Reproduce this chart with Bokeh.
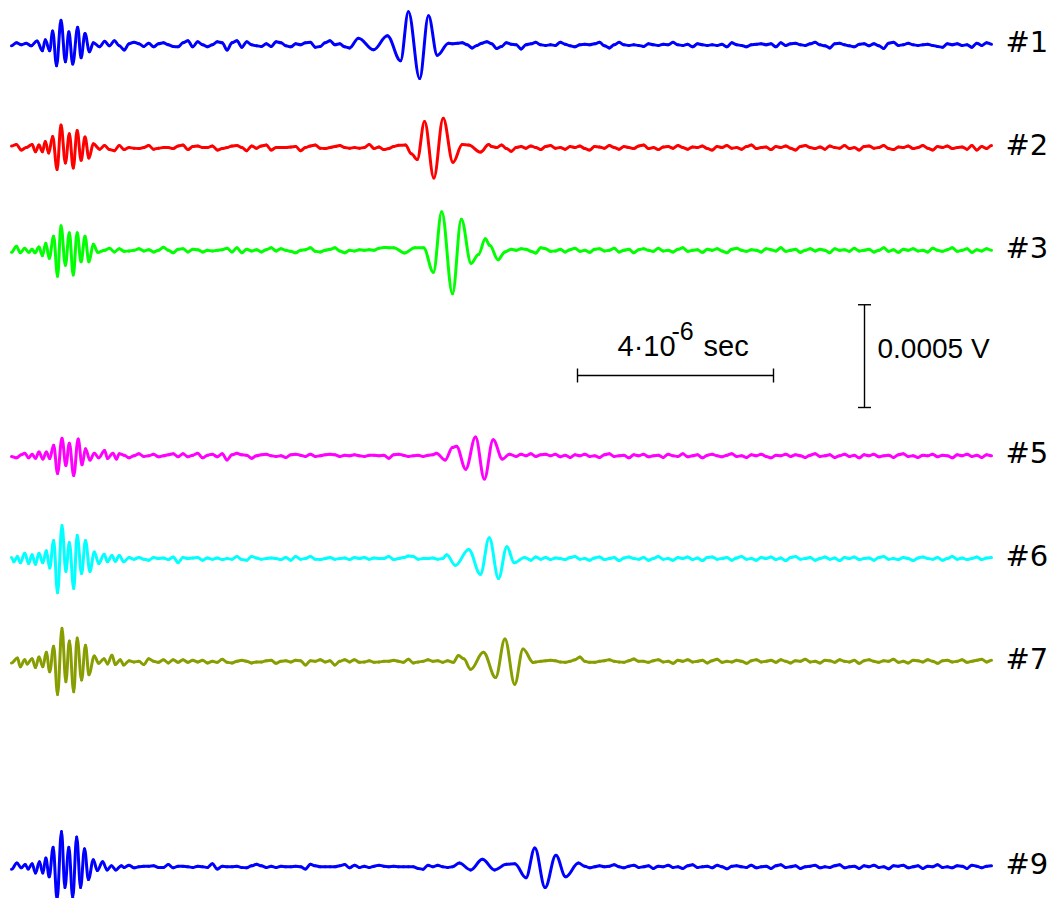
import numpy as np
from bokeh.plotting import figure
from bokeh.models import ColumnDataSource, Range1d
from bokeh.embed import file_html
from bokeh.resources import INLINE
from bokeh.core.properties import value

# ------------------------------------------------------------------
# DATA  (time in microseconds, amplitude in microvolts)
# ------------------------------------------------------------------
NOISE_STEP_US = 0.1          # background samples every 0.1 us (None = see burst/pulse lists)
TRACE_NUMBERS = [1, 2, 3, 5, 6, 7, 9]
TRACE_LABELS = ["#1", "#2", "#3", "#5", "#6", "#7", "#9"]
TRACE_COLORS = ["#0000ff", "#ff0000", "#00ff00", "#ff00ff", "#00ffff", "#889e00", "#0000ff"]
TRACE_SPACING_UV = 500       # traces are offset by 0.0005 V
SCALE_TIME_US = 4            # 4*10^-6 sec scale bar
SCALE_VOLT_UV = 500          # 0.0005 V scale bar
SCALE_TIME_TEXT = ["4\u00b710", "-6", "sec"]
SCALE_VOLT_TEXT = "0.0005 V"

N = None

NOISE_1 = [
    -5, 10, 0, 8, -5, N, N, N, N, N,
    N, N, N, N, N, N, N, N, -10, 17,
    -5, 20, -5, -25, 5, 13, 5, -8, 8, -10,
    5, 10, 0, -8, -10, 10, 20, -10, 15, 0,
    -10, 0, 15, 10, -25, 10, 20, -12, 15, 0,
    -5, -8, 5, -8, 15, 10, -5, -10, 5, 0,
    10, 12, -12, -8, 10, 20, 0, 5, -10, N,
    N, N, N, N, N, N, N, N, N, N,
    N, N, N, N, N, N, N, N, N, N,
    5, 8, 10, 0, -15, -3, 8, 15, 5, -18,
    -8, 10, 3, 0, -20, 0, 5, 12, 0, -3,
    0, -3, 12, 3, -5, -10, 0, 3, 0, 5,
    12, -5, -15, 0, 12, 0, -3, 0, -3, -8,
    5, 0, -3, 3, 0, 12, 0, -3, 3, -10,
    5, 0, -3, 0, -3, 3, -10, 10, 0, -3,
    -10, 0, 3, 5, 0, 5, -10, 10, -3, 5,
    8, 0, -3, 5, 12, 0, -5, -15, 5, 8,
    0, -5, -10, 3, 5, -5, 5, -5, -18, 8,
    12, -3, 0, 8, 0, -3, 0, 3, -3, -8,
    -12, 5, 0, 5, -3, 0, -12, 8, -3, 10,
    3,
]
BURST_1_T = [0.52, 0.63, 0.69, 0.78, 0.84, 0.92, 1.01, 1.10, 1.17, 1.25, 1.35, 1.42, 1.50, 1.59, 1.67]
BURST_1_V = [19, -29, 24, -29, 67, -102, 120, -83, 63, -94, 85, -63, 55, -34, 10]
PULSE_1_T = [6.90, 7.08, 7.39, 7.67, 7.94, 8.10, 8.33, 8.51, 8.69, 8.92]
PULSE_1_V = [-15, 32, -24, 44, -78, 161, -164, 141, -51, 8]

NOISE_2 = [
    7, 15, -12, 0, N, N, N, N, N, N,
    N, N, N, N, N, N, N, N, -8, 10,
    -10, -15, 10, -10, 0, -3, -5, 0, 10, -8,
    -3, 0, 0, -5, 8, 12, -10, 5, 8, 0,
    0, 8, -12, -5, 0, 8, 10, 0, -15, 8,
    -3, 8, 12, -12, 0, 0, 0, 3, 5, -15,
    0, 8, 12, -3, -5, 0, 5, 10, 0, -3,
    0, -3, 0, 15, -5, 3, -10, -5, 5, N,
    N, N, N, N, N, N, N, N, N, N,
    N, N, N, N, N, N, N, N, 5, 0,
    12, -5, -18, 0, 5, -3, 8, 0, -10, 5,
    10, -3, 0, -8, 5, 0, 8, -5, -12, 5,
    3, -3, 10, 0, -8, 5, 0, -5, 8, 12,
    -5, 0, -10, 3, 5, -3, 10, 0, -8, 3,
    0, 8, -5, -12, 5, 0, 10, -3, 0, -8,
    5, 12, -5, 0, 3, -10, 5, 0, 8, -3,
    -12, 5, 10, 0, -5, 3, -8, 8, 0, -3,
    10, -5, 0, -12, 5, 8, -3, 0, 10, -5,
    -10, 3, 0, 8, -5, 0, 10, -3, -12, 5,
    0, 8, -5, 0, 3, -8, 10, -12, 5, -5,
    10,
]
BURST_2_T = [0.42, 0.49, 0.56, 0.63, 0.69, 0.76, 0.84, 0.93, 1.01, 1.10, 1.18, 1.26, 1.34, 1.42, 1.50, 1.58, 1.67]
BURST_2_V = [15, -20, 12, -20, 29, -27, 54, -107, 110, -75, 67, -99, 83, -62, 51, -51, 18]
PULSE_2_T = [7.90, 8.04, 8.16, 8.28, 8.43, 8.62, 8.81, 9.01, 9.20, 9.33, 9.57, 9.74]
PULSE_2_V = [11, 12, -30, -58, 127, -148, 143, -72, 15, 12, -22, 15]

NOISE_3 = [
    -10, N, N, N, N, N, N, N, N, N,
    N, N, N, N, N, N, N, N, N, 0,
    10, -8, 8, -5, -3, 0, 8, -3, 3, -8,
    0, 15, 0, -12, 5, 8, -8, 5, 3, -8,
    0, -3, 0, 3, 10, -8, 12, -12, 5, -3,
    3, -8, 3, 12, -3, 8, 0, -5, -12, 0,
    3, 12, -5, -8, 0, 5, 12, -3, -12, 0,
    -3, 3, 0, 3, 0, 10, 14, 13, N, N,
    N, N, N, N, N, N, N, N, N, N,
    N, N, N, N, N, N, N, N, N, N,
    N, N, 5, 0, 8, 5, -5, -13, 12, 8,
    -5, -3, 5, -8, 3, 10, -5, 0, -10, 5,
    8, -3, 0, 10, -8, 0, 5, -12, 3, 8,
    0, -5, 10, -3, 0, -8, 5, 12, -5, 0,
    3, -10, 5, 0, 8, -3, -12, 5, 10, 0,
    -5, 3, 0, -8, 8, 3, -3, 12, -5, 0,
    5, -10, 0, 8, -3, 5, 0, -12, 8, 0,
    3, -5, 10, -3, 0, 5, -8, 0, 12, -5,
    3, -10, 5, 0, 8, -3, 0, -8, 10, 0,
    -5, 3, 12, -5, 0, 8, -10, 3, -3, 8,
    0,
]
BURST_3_T = [0.10, 0.18, 0.27, 0.35, 0.42, 0.48, 0.56, 0.63, 0.70, 0.77, 0.86, 0.94, 1.01, 1.10, 1.18, 1.26, 1.34, 1.42, 1.50, 1.58, 1.67, 1.76]
BURST_3_V = [20, -12, 10, -10, 5, -12, 16, -26, 34, -39, 68, -126, 120, -73, 86, -120, 86, -56, 68, -56, 29, -10]
PULSE_3_T = [7.80, 8.02, 8.23, 8.41, 8.61, 8.78, 9.00, 9.18, 9.38, 9.53, 9.67, 9.76, 9.93, 10.07]
PULSE_3_V = [13, -13, 13, 12, -107, 188, -211, 151, -63, -20, 56, 24, -46, -8]

NOISE_5 = [
    -3, -10, 5, N, N, N, N, N, N, N,
    N, N, N, N, N, N, N, N, N, N,
    N, N, 10, 3, -10, 0, 10, -3, 0, 8,
    -5, 0, 5, 10, -5, 10, -5, 3, 12, -10,
    3, 8, -5, 10, -20, 5, 12, 5, 3, -12,
    0, 5, 8, 0, -3, 0, -8, 5, 8, 3,
    -3, 8, -3, 0, 5, 8, 5, -3, 3, 0,
    5, 0, -3, 3, 3, 0, 3, -12, 5, 8,
    3, -3, 0, 3, -3, 3, 5, N, N, N,
    N, N, N, N, N, N, N, N, N, N,
    N, N, N, -3, 8, 0, 10, -3, 5, 8,
    0, 8, -5, 3, -8, 5, 0, 8, -3, 0,
    -8, 5, 10, -3, 0, 3, -10, 5, 0, 8,
    -5, 0, 3, -8, 8, 0, -3, 10, -5, 0,
    5, -10, 3, 8, 0, -5, 3, 10, -3, 0,
    -8, 5, 0, 8, -3, -10, 3, 0, 8, -3,
    5, 0, -8, 3, 10, -3, 0, 5, -8, 0,
    8, -3, 3, -10, 5, 0, 8, -5, 0, 3,
    -8, 5, 10, -3, 0, -8, 3, 0, 8, -5,
    3, 0, -10, 5, 0, 8, -3, 3, -8, 5,
    0,
]
BURST_5_T = [0.27, 0.35, 0.42, 0.49, 0.56, 0.64, 0.71, 0.78, 0.86, 0.94, 1.03, 1.11, 1.18, 1.27, 1.36, 1.44, 1.51, 1.60, 1.69, 1.78, 1.90, 1.96, 2.07, 2.14]
BURST_5_V = [13, -10, 8, -12, 18, -16, 18, -13, 51, -86, 86, -47, 61, -96, 82, -44, 34, -21, 13, -10, 26, -13, 13, -16]
PULSE_5_T = [8.67, 8.85, 9.00, 9.08, 9.27, 9.47, 9.65, 9.83, 10.02, 10.16]
PULSE_5_V = [13, -21, 40, 47, -65, 91, -113, 78, -16, 8]

NOISE_6 = [
    5, N, N, N, N, N, N, N, N, N,
    N, N, N, N, N, N, N, N, N, N,
    N, N, N, N, 5, -3, 5, -3, -8, 5,
    0, 3, -5, 8, -20, 5, 0, 3, 5, -8,
    3, -3, 3, -5, 0, -3, 10, -5, -8, 10,
    3, -3, 0, 3, 0, -5, 5, -8, 10, -3,
    0, 10, -3, -5, 0, 5, -3, 0, 3, -5,
    5, 0, 5, -3, 3, 0, 0, 10, -5, 0,
    5, 12, 10, -3, 0, 0, 3, -3, 0, N,
    N, N, N, N, N, N, N, N, N, N,
    N, N, N, N, N, N, -8, 8, -3, 5,
    -5, 3, 0, -5, 5, 10, -3, 0, -8, 3,
    8, -5, 0, 5, -10, 3, 8, 0, -3, 5,
    -8, 0, 10, -3, 0, -8, 5, 0, 8, -5,
    3, -10, 5, 8, -3, 0, 5, -8, 3, 10,
    -3, 0, -8, 5, 0, 8, -5, 3, -10, 5,
    10, -3, 0, 5, -8, 0, 8, -3, 3, -10,
    5, 0, 8, -5, 0, 3, -8, 5, 10, -3,
    0, -5, 5, 0, -10, 3, 8, 0, -3, 5,
    -8, 0, 10, -3, 3, -5, 0, 8, -5, 3,
    5,
]
BURST_6_T = [0.05, 0.12, 0.18, 0.27, 0.35, 0.42, 0.49, 0.56, 0.64, 0.71, 0.78, 0.86, 0.94, 1.03, 1.11, 1.18, 1.27, 1.34, 1.43, 1.51, 1.60, 1.69, 1.78, 1.89, 1.96, 2.05, 2.12, 2.20, 2.29]
BURST_6_V = [-16, 10, -21, 26, -24, 18, -28, 26, -21, 38, -46, 88, -167, 161, -63, 78, -146, 113, -73, 88, -63, 32, -24, 21, -16, 15, -13, 15, -16]
PULSE_6_T = [8.88, 9.06, 9.33, 9.57, 9.75, 9.94, 10.11, 10.26, 10.47]
PULSE_6_V = [18, -33, 44, -77, 101, -97, 58, -21, 5]

NOISE_7 = [
    -8, N, N, N, N, N, N, N, N, N,
    N, N, N, N, N, N, N, N, N, N,
    N, N, N, N, 3, -3, 0, -16, 13, 0,
    -5, 8, -8, 8, -5, 8, -5, 5, -3, 5,
    -8, 0, -5, 10, -5, -8, 0, 5, 0, -8,
    -3, -3, 3, 5, -10, 0, 3, -3, 5, 3,
    -18, 3, 0, 8, -3, 3, -18, 0, 8, -3,
    8, -5, -3, 3, -5, -3, 0, 0, 5, 0,
    -5, 10, -8, -3, 0, 8, 0, 3, -5, 3,
    N, N, N, N, N, N, N, N, N, N,
    N, N, N, N, N, N, N, -3, 0, 3,
    5, 3, -3, -5, 0, 8, 21, 0, -5, -5,
    0, 3, 8, 0, -3, -5, 3, 11, 0, 0,
    -5, 3, 8, -3, 0, -10, 5, 0, 8, -3,
    0, 5, -8, 3, 10, -5, 0, -3, 5, 0,
    -10, 3, 8, -3, 0, 5, -5, 8, 0, -8,
    3, 0, 10, -3, 0, -8, 5, 3, -5, 8,
    0, -3, 5, -10, 3, 8, 0, -5, 3, 0,
    10, -5, 0, -8, 5, 3, -3, 8, 0, -10,
    3, 5, -3, 0, 8, -5, 0, 5, 10, -3,
    5,
]
BURST_7_T = [0.12, 0.18, 0.27, 0.32, 0.42, 0.49, 0.56, 0.64, 0.71, 0.78, 0.86, 0.94, 1.03, 1.11, 1.18, 1.27, 1.34, 1.43, 1.51, 1.58, 1.69, 1.78, 1.89, 1.96, 2.05, 2.12, 2.22, 2.29]
BURST_7_V = [16, -26, 8, -13, 13, -30, 21, -26, 44, -51, 73, -161, 161, -99, 99, -148, 113, -91, 78, -65, 26, -10, 13, -13, 30, -16, 8, -18]
PULSE_7_T = [9.02, 9.12, 9.23, 9.37, 9.63, 9.88, 10.07, 10.27, 10.44, 10.65]
PULSE_7_V = [-5, 28, 12, -39, 44, -79, 109, -112, 60, -6]

NOISE_9 = [
    -12, N, N, N, N, N, N, N, N, N,
    N, N, N, N, N, N, N, N, N, N,
    N, N, N, -3, 8, -5, 0, 3, 3, 5,
    -3, -3, 11, -5, 3, 3, 0, -3, 3, 0,
    -3, 15, -11, 3, 0, 0, 3, -3, -5, 5,
    12, 5, -3, 3, -3, 3, 0, 0, 3, 0,
    -11, 12, 5, 0, 0, 0, 0, 5, 11, -5,
    8, -3, 3, -3, 3, 8, 3, 0, 3, 0,
    0, 0, 0, -8, -12, 8, 0, 8, 0, -3,
    0, N, N, N, N, N, N, N, N, N,
    N, N, N, N, N, N, N, N, N, N,
    N, N, N, N, N, N, N, 3, -5, 0,
    5, 0, 3, 10, 0, -5, 3, 8, -3, 0,
    5, -8, 3, 0, 8, -3, 0, -8, 5, 10,
    -3, 0, 3, -5, 8, 0, -10, 3, 5, 0,
    -3, 8, -5, 0, 3, -8, 5, 10, -3, 0,
    5, -8, 0, 3, 8, -5, 0, -3, 5, 10,
    -5, 0, 3, -8, 5, 0, 8, -3, 0, -10,
    5, 3, 8, -5, 0, 5, -8, 3, 0, 10,
    -3, 0, -5, 5, 3, -8, 8, 3, -5, 3,
    5,
]
BURST_9_T = [0.11, 0.20, 0.28, 0.34, 0.42, 0.49, 0.57, 0.64, 0.70, 0.77, 0.85, 0.93, 1.02, 1.09, 1.17, 1.25, 1.33, 1.41, 1.49, 1.57, 1.67, 1.75, 1.86, 1.95, 2.04, 2.13, 2.24]
BURST_9_V = [18, -5, 11, -11, 15, -30, 24, -30, 43, -49, 95, -159, 172, -101, 95, -149, 145, -101, 88, -62, 34, -18, 24, -15, 5, -15, 5]
PULSE_9_T = [9.14, 9.37, 9.61, 9.86, 10.10, 10.27, 10.50, 10.68, 10.89, 11.11, 11.31, 11.57]
PULSE_9_V = [18, -15, 37, -15, 12, 15, -53, 92, -101, 56, -49, 18]

TRACES = [
    (NOISE_1, BURST_1_T, BURST_1_V, PULSE_1_T, PULSE_1_V),
    (NOISE_2, BURST_2_T, BURST_2_V, PULSE_2_T, PULSE_2_V),
    (NOISE_3, BURST_3_T, BURST_3_V, PULSE_3_T, PULSE_3_V),
    (NOISE_5, BURST_5_T, BURST_5_V, PULSE_5_T, PULSE_5_V),
    (NOISE_6, BURST_6_T, BURST_6_V, PULSE_6_T, PULSE_6_V),
    (NOISE_7, BURST_7_T, BURST_7_V, PULSE_7_T, PULSE_7_V),
    (NOISE_9, BURST_9_T, BURST_9_V, PULSE_9_T, PULSE_9_V),
]

# ------------------------------------------------------------------
# LAYOUT (canvas pixel -> data helpers; canvas starts at page 0,0)
# ------------------------------------------------------------------
W, H = 1057, 898
ORG = 0
TEXT_LIFT = 10               # px correction for the svg text baseline
PX_PER_US = 49.0
PX_PER_UV = 102.75 / TRACE_SPACING_UV
X0 = -(11.0 - ORG) / PX_PER_US
X1 = X0 + W / PX_PER_US
Y1 = -TRACE_SPACING_UV + (44.3 - ORG) / PX_PER_UV
Y0 = Y1 - H / PX_PER_UV
K = 1 - 2 / np.pi   # bezier handle fraction (smooth turning points)


def dx(px):
    return X0 + (px - ORG) / PX_PER_US


def dy(py):
    return Y1 - (py - ORG) / PX_PER_UV


def build(noise, bt, bv, pt, pv):
    pts = [(round(NOISE_STEP_US * i, 3), v) for i, v in enumerate(noise) if v is not None]
    pts += list(zip(bt, bv)) + list(zip(pt, pv))
    pts.sort()
    return np.array([q[0] for q in pts], float), np.array([q[1] for q in pts], float)


p = figure(width=W, height=H, x_range=Range1d(X0, X1), y_range=Range1d(Y0, Y1),
           output_backend="svg", toolbar_location=None, min_border=0,
           x_axis_location=None, y_axis_location=None)
p.grid.visible = False
p.outline_line_color = None
p.background_fill_color = "white"
p.border_fill_color = "white"

for num, label, color, tr in zip(TRACE_NUMBERS, TRACE_LABELS, TRACE_COLORS, TRACES):
    t, v = build(*tr)
    off = -TRACE_SPACING_UV * num
    y = v + off
    dt = t[1:] - t[:-1]
    src = ColumnDataSource(dict(
        x0=t[:-1], y0=y[:-1], x1=t[1:], y1=y[1:],
        cx0=t[:-1] + K * dt, cy0=y[:-1], cx1=t[1:] - K * dt, cy1=y[1:]))
    p.bezier(x0="x0", y0="y0", x1="x1", y1="y1", cx0="cx0", cy0="cy0",
             cx1="cx1", cy1="cy1", source=src, line_color=color,
             line_width=3.0, line_cap="round")
    p.text(x=[dx(1005)], y=[off + (TEXT_LIFT - 7.5) / PX_PER_UV], text=[label],
           text_font=value("DejaVu Sans"), text_font_size="29px",
           text_color="black", text_baseline="alphabetic", text_align="left")

# time scale bar
hb_x0 = dx(577)
hb_y = dy(375)
tick_h = 7 / PX_PER_UV
p.segment(x0=[hb_x0, hb_x0, hb_x0 + SCALE_TIME_US],
          y0=[hb_y, hb_y - tick_h, hb_y - tick_h],
          x1=[hb_x0 + SCALE_TIME_US, hb_x0, hb_x0 + SCALE_TIME_US],
          y1=[hb_y, hb_y + tick_h, hb_y + tick_h],
          line_color="black", line_width=1.4)

# voltage scale bar
vb_x = dx(864)
vb_y0 = dy(407)
tick_w = 6.5 / PX_PER_US
p.segment(x0=[vb_x, vb_x - tick_w, vb_x - tick_w],
          y0=[vb_y0, vb_y0, vb_y0 + SCALE_VOLT_UV],
          x1=[vb_x, vb_x + tick_w, vb_x + tick_w],
          y1=[vb_y0 + SCALE_VOLT_UV, vb_y0, vb_y0 + SCALE_VOLT_UV],
          line_color="black", line_width=1.4)

font = value("Liberation Sans")
p.text(x=[dx(617)], y=[dy(355 - TEXT_LIFT)], text=[SCALE_TIME_TEXT[0]], text_font=font,
       text_font_size="29px", text_baseline="alphabetic", text_color="black")
p.text(x=[dx(671)], y=[dy(340 - TEXT_LIFT)], text=[SCALE_TIME_TEXT[1]], text_font=font,
       text_font_size="25px", text_baseline="alphabetic", text_color="black")
p.text(x=[dx(703)], y=[dy(355 - TEXT_LIFT)], text=[SCALE_TIME_TEXT[2]], text_font=font,
       text_font_size="29px", text_baseline="alphabetic", text_color="black")
p.text(x=[dx(877)], y=[dy(358 - TEXT_LIFT)], text=[SCALE_VOLT_TEXT], text_font=font,
       text_font_size="28px", text_baseline="alphabetic", text_color="black")

open("out.html", "w").write(file_html(p, INLINE))
